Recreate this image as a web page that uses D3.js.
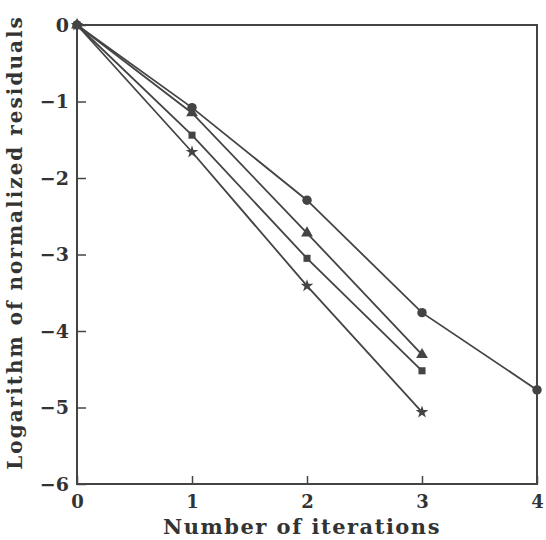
<!DOCTYPE html>
<html>
<head>
<meta charset="utf-8">
<script src="https://cdn.jsdelivr.net/npm/d3@7"></script>
<style>
  body { margin: 0; background: #fff; }
  text { font-family: "DejaVu Serif", "Liberation Serif", serif; font-weight: bold; fill: #333; }
</style>
</head>
<body>
<script>
const width = 546;
const height = 540;
const marginLeft = 77;
const marginRight = 9;
const marginTop = 25;
const marginBottom = 56;

// data
const iterations = [0, 1, 2, 3, 4];
const circleVals = [0, -1.08, -2.29, -3.76, -4.77];
const triangleVals = [0, -1.15, -2.72, -4.31];
const squareVals = [0, -1.44, -3.05, -4.52];
const starVals = [0, -1.66, -3.41, -5.06];
const xTicks = [0, 1, 2, 3, 4];
const yTicks = [0, -1, -2, -3, -4, -5, -6];

const series = [
  { name: "circle", values: circleVals, symbol: d3.symbolCircle, size: 70 },
  { name: "triangle", values: triangleVals, symbol: d3.symbolTriangle, size: 60 },
  { name: "square", values: squareVals, symbol: d3.symbolSquare, size: 50 },
  { name: "star", values: starVals, symbol: d3.symbolStar, size: 50 }
];

const ink = "#444";

const svg = d3
  .select("body")
  .append("svg")
  .attr("width", width)
  .attr("height", height);

const xScale = d3.scaleLinear()
  .domain([0, 4])
  .range([marginLeft, width - marginRight]);
const yScale = d3.scaleLinear()
  .domain([-6, 0])
  .range([height - marginBottom, marginTop]);

// frame
svg.append("rect")
  .attr("x", xScale(0))
  .attr("y", yScale(0))
  .attr("width", xScale(4) - xScale(0))
  .attr("height", yScale(-6) - yScale(0))
  .attr("fill", "none")
  .attr("stroke", ink)
  .attr("stroke-width", 2);

// x axis, ticks pointing inward
const xAxis = d3.axisBottom(xScale)
  .tickValues(xTicks)
  .tickSizeInner(-8)
  .tickSizeOuter(0)
  .tickPadding(11)
  .tickFormat(d3.format("d"));

const gx = svg.append("g")
  .attr("transform", `translate(0, ${yScale(-6)})`)
  .call(xAxis);
gx.select(".domain").remove();
gx.selectAll(".tick line").attr("stroke", ink).attr("stroke-width", 1.5);
gx.selectAll(".tick text").style("font-size", "18px");

// y axis, ticks pointing inward
const yAxis = d3.axisLeft(yScale)
  .tickValues(yTicks)
  .tickSizeInner(-9)
  .tickSizeOuter(0)
  .tickPadding(8)
  .tickFormat(d => d === 0 ? "0" : "\u2212" + Math.abs(d));

const gy = svg.append("g")
  .attr("transform", `translate(${xScale(0)}, 0)`)
  .call(yAxis);
gy.select(".domain").remove();
gy.selectAll(".tick line").attr("stroke", ink).attr("stroke-width", 1.5);
gy.selectAll(".tick text").style("font-size", "19px");

// lines
const line = d3.line()
  .x((d, i) => xScale(iterations[i]))
  .y(d => yScale(d));

svg.append("g")
  .selectAll("path")
  .data(series)
  .enter()
  .append("path")
  .attr("d", d => line(d.values))
  .attr("fill", "none")
  .attr("stroke", ink)
  .attr("stroke-width", 1.8);

// markers
series.forEach(function(s) {
  svg.append("g")
    .selectAll("path")
    .data(s.values)
    .enter()
    .append("path")
    .attr("transform", (d, i) => `translate(${xScale(iterations[i])}, ${yScale(d)})`)
    .attr("d", d3.symbol().type(s.symbol).size(s.size))
    .attr("fill", ink);
});

// axis titles
svg.append("text")
  .attr("x", (xScale(0) + xScale(4)) / 2 - 5)
  .attr("y", height - 6)
  .attr("text-anchor", "middle")
  .style("font-size", "21px")
  .style("letter-spacing", "1.5px")
  .text("Number of iterations");

svg.append("text")
  .attr("transform", `translate(22, ${(yScale(0) + yScale(-6)) / 2 - 12}) rotate(-90)`)
  .attr("text-anchor", "middle")
  .style("font-size", "20px")
  .style("letter-spacing", "2px")
  .text("Logarithm of normalized residuals");
</script>
</body>
</html>
